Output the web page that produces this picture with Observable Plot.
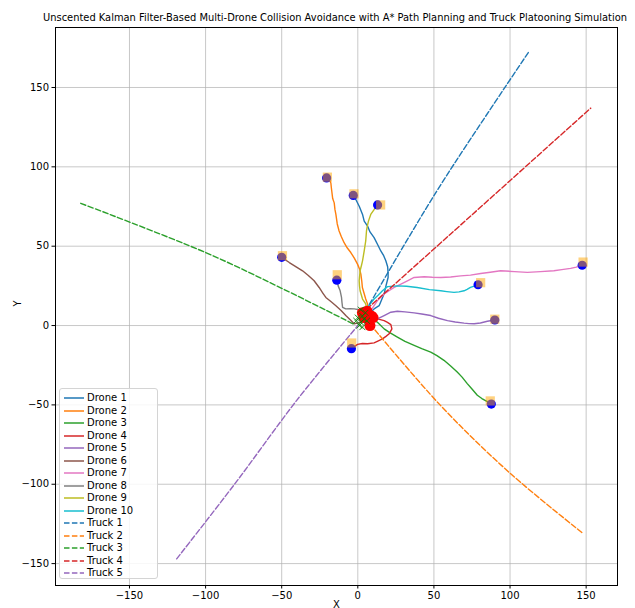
<!DOCTYPE html>
<html>
<head>
<meta charset="utf-8">
<script src="https://cdn.jsdelivr.net/npm/d3@7"></script>
<script src="https://cdn.jsdelivr.net/npm/@observablehq/plot@0.6"></script>
<style>
  html, body { margin: 0; padding: 0; background: white; }
  #wrap { position: relative; width: 635px; height: 608px; font-family: "DejaVu Sans", sans-serif; }
  #title { position: absolute; left: 0; top: 12px; width: 670px; text-align: center; font-size: 9.9px; color: #000; white-space: nowrap; }
  #legend { position: absolute; left: 59px; top: 388px; width: 99px; height: 191px; border: 1px solid #d4d4d4; border-radius: 3px; background: rgba(255,255,255,0.85); box-sizing: border-box; }
  .row { position: absolute; left: 0; height: 12px; font-size: 10px; line-height: 12px; color: #000; }
  .row svg { position: absolute; left: 3px; top: 1px; }
  .row span { position: absolute; left: 27px; top: 0; white-space: nowrap; }
</style>
</head>
<body>
<div id="wrap">
  <div id="title"></div>
  <div id="chart"></div>
  <div id="legend"></div>
</div>
<script>
// ---- data ----
const titleText = "Unscented Kalman Filter-Based Multi-Drone Collision Avoidance with A* Path Planning and Truck Platooning Simulation";
const xTicks = [-150, -100, -50, 0, 50, 100, 150];
const yTicks = [-150, -100, -50, 0, 50, 100, 150];

const droneNames = ["Drone 1","Drone 2","Drone 3","Drone 4","Drone 5","Drone 6","Drone 7","Drone 8","Drone 9","Drone 10"];
const droneColors = ["#1f77b4","#ff7f0e","#2ca02c","#d62728","#9467bd","#8c564b","#e377c2","#7f7f7f","#bcbd22","#17becf"];
const truckNames = ["Truck 1","Truck 2","Truck 3","Truck 4","Truck 5"];
const truckColors = ["#1f77b4","#ff7f0e","#2ca02c","#d62728","#9467bd"];

const drone1 = [[-3,82],[-1.3,79.4],[1,75],[3.1,70],[4.2,65.8],[6.4,62.7],[8,59],[10.7,55.4],[12.9,51.2],[15.1,47],[17,44],[18.4,40.8],[19.6,37],[19.9,33],[19.9,30.3],[18.5,25],[17.3,20],[14,12.5],[10.7,10.5],[8,8]];
const drone2 = [[-20.5,93],[-18.5,91.5],[-17.7,89.8],[-17.4,87],[-17.1,84.6],[-16.5,80],[-15.5,77.3],[-15,73],[-14.4,70],[-13.5,64],[-12.3,59.6],[-10.8,56],[-9,52.2],[-7,49],[-4.6,46],[-2.3,42.5],[-0.2,38.7],[1.2,35.5],[2,32.4],[2.6,28],[3,24],[4.2,20],[5.2,16.7],[6.4,13.6],[6,8]];
const drone3 = [[87.7,-49.5],[85.1,-48],[81.5,-46],[78.5,-43.9],[75,-40],[71.9,-36.6],[68.5,-32.5],[65.3,-29.3],[61,-25.5],[56.6,-21.9],[52,-19],[47.9,-16.7],[42,-14.5],[37,-12.5],[31,-10],[26,-7.3],[21,-4.5],[17.3,-2.1],[12.9,2.1],[8,4]];
const drone4 = [[-4.2,-14.6],[-0.2,-11.9],[3,-11.3],[6.4,-11.5],[10.7,-10.9],[13.5,-9.6],[16.2,-8.4],[18.5,-6.8],[20.6,-5.2],[22.4,-2.1],[21.7,0.6],[19.5,2],[17.3,3.1],[12.9,4.2],[8,5]];
const drone5 = [[90,3.5],[85.1,2.7],[80.5,1.6],[76.4,1.1],[73,1.2],[69.8,1.5],[64,2.2],[58.9,3.1],[53,4.6],[47.9,6.3],[42,7.3],[37,8],[31,8.6],[26,9],[21.7,8.4],[19.5,7.4],[17.3,6.3],[12.9,4.2],[8,5]];
const drone6 = [[-50,43],[-45,39.7],[-40.5,37],[-36.3,34.5],[-32.5,31.5],[-28.7,28.2],[-25.4,24],[-23,20.5],[-21,17.7],[-17.5,15],[-14.4,12.5],[-11,9.5],[-7.9,6.3],[-5,3.6],[-2.4,1.1],[2,2]];
const drone7 = [[147.4,38],[143.5,36.8],[139.8,36],[134,35.2],[128.8,34.5],[120,34],[111.4,33.5],[103,34],[93.8,34.5],[87,33.6],[80.7,32.8],[74,31.8],[67.6,31.3],[61,30.6],[54.5,30.3],[49,30.4],[43.6,30.7],[37,30.3],[32.6,28.2],[28,26],[23.9,24],[20.5,22],[17.3,19.9],[12.9,15.7],[8.5,9.4]];
const drone8 = [[-13.8,28.6],[-12.9,25],[-11.6,21.9],[-10.7,17.7],[-10.4,14.5],[-10,11.5],[-7.9,10.5],[-5,10.6],[-2.4,10.5],[2,9.8],[5.2,7.3]];
const drone9 = [[13,76],[10.7,73.1],[8.5,70],[7,65.8],[6.2,62.5],[5.7,59.6],[5.2,53.3],[4.2,47],[3.1,40.8],[2.3,37.5],[1.5,34.5],[0.9,28.2],[1.1,25],[1.5,21.9],[3.1,16.7],[5.2,13.6],[6,9]];
const drone10 = [[79,25.7],[76.5,24.8],[74,24],[71.8,22.8],[69.8,21.9],[66.5,21.2],[63.2,20.9],[58.5,21.4],[54.5,21.9],[47,22.6],[39,24],[32,24.8],[26,25],[19.5,24.5],[16.2,21.9],[13.5,19.2],[10.7,16.7],[6.4,11.5],[5,8]];
const dronePaths = [drone1, drone2, drone3, drone4, drone5, drone6, drone7, drone8, drone9, drone10];

const truck1 = [[5,9],[30,50],[56,91],[112,172]];
const truck2 = [[8,1],[54,-50],[100,-93],[148,-131]];
const truck3 = [[-182,77],[-100,46],[-49,23],[-3,1]];
const truck4 = [[2,7],[61,57.7],[153,137]];
const truck5 = [[-119,-147],[-81,-100],[-40,-47],[0,0]];
const truckPaths = [truck1, truck2, truck3, truck4, truck5];

const startX = [-3, -20.5, 87.7, -4.2, 90, -50, 147.4, -13.8, 13, 79];
const startY = [82, 93, -49.5, -14.6, 3.5, 43, 38, 28.6, 76, 25.7];
const estX = [-2.5, -20, 87, -4, 90, -49.5, 148, -13.5, 15, 80.7];
const estY = [83, 93.5, -47.5, -11, 4, 44, 40, 32, 76, 27];

const collisionX = [3, 6, 9, 7, 10, 8, 4];
const collisionY = [8, 9, 6, 4, 5, 0, 5];
const goalX = [0, 2, 3, 1, 4, 6, 2, 5, -1, 3];
const goalY = [5, 2, -1, 0, 4, 3, 10, 8, 3, 6];

// ---- build tables ----
document.getElementById("title").textContent = titleText;
const droneRows = dronePaths.flatMap((p, i) => p.map(([x, y]) => ({x, y, name: droneNames[i]})));
const truckRows = truckPaths.flatMap((p, i) => p.map(([x, y]) => ({x, y, name: truckNames[i]})));
const starts = startX.map((x, i) => ({x, y: startY[i]}));
const ests = estX.map((x, i) => ({x, y: estY[i]}));
const collisions = collisionX.map((x, i) => ({x, y: collisionY[i]}));
const goals = goalX.map((x, i) => ({x, y: goalY[i]}));

const allNames = [...droneNames, ...truckNames];
const allColors = [...droneColors, ...truckColors];
const fmt = d => d < 0 ? "\u2212" + Math.abs(d) : String(d);

const plot = Plot.plot({
  width: 635,
  height: 608,
  marginLeft: 55,
  marginRight: 18,
  marginTop: 27,
  marginBottom: 23,
  style: {fontFamily: "DejaVu Sans, sans-serif", fontSize: "10px", color: "#000", background: "white", overflow: "visible"},
  x: {domain: [-198.6, 170.6]},
  y: {domain: [-163.8, 187.8]},
  color: {domain: allNames, range: allColors},
  marks: [
    Plot.gridX(xTicks, {stroke: "#b0b0b0", strokeOpacity: 0.7, strokeWidth: 1}),
    Plot.gridY(yTicks, {stroke: "#b0b0b0", strokeOpacity: 0.7, strokeWidth: 1}),
    Plot.line(droneRows, {x: "x", y: "y", z: "name", stroke: "name", strokeWidth: 1.4, curve: "linear"}),
    Plot.line(truckRows, {x: "x", y: "y", z: "name", stroke: "name", strokeWidth: 1.4, strokeDasharray: "5.5,2.4", curve: "catmull-rom"}),
    Plot.dot(starts, {x: "x", y: "y", r: 4.6, fill: "#0000ff", stroke: "none"}),
    Plot.dot(ests, {x: "x", y: "y", r: 5.2, symbol: "square", fill: "#ffa500", fillOpacity: 0.5, stroke: "none"}),
    Plot.dot(collisions, {x: "x", y: "y", r: 5.5, fill: "#ff0000", stroke: "none"}),
    Plot.dot(goals, {x: "x", y: "y", r: 2.8, symbol: "times", stroke: "#008000", strokeWidth: 0.9}),
    Plot.frame({stroke: "#000", strokeWidth: 1}),
    Plot.axisX(xTicks, {anchor: "bottom", tickSize: 3.5, tickPadding: 3, label: null, tickFormat: fmt}),
    Plot.axisY(yTicks, {anchor: "left", tickSize: 3.5, tickPadding: 3, label: null, tickFormat: fmt}),
    Plot.text(["X"], {frameAnchor: "bottom", dy: 22, fontSize: 10}),
    Plot.text(["Y"], {frameAnchor: "left", dx: -38, rotate: -90, fontSize: 10})
  ]
});
document.getElementById("chart").appendChild(plot);

// ---- legend ----
const legend = document.getElementById("legend");
allNames.forEach((name, i) => {
  const row = document.createElement("div");
  row.className = "row";
  row.style.top = (3 + i * 12.5) + "px";
  const dashed = i >= droneNames.length;
  row.innerHTML = `<svg width="22" height="10"><line x1="1" x2="21" y1="5" y2="5" stroke="${allColors[i]}" stroke-width="1.5" ${dashed ? 'stroke-dasharray="5.5,2.4"' : ''}/></svg><span>${name}</span>`;
  legend.appendChild(row);
});
</script>
</body>
</html>
